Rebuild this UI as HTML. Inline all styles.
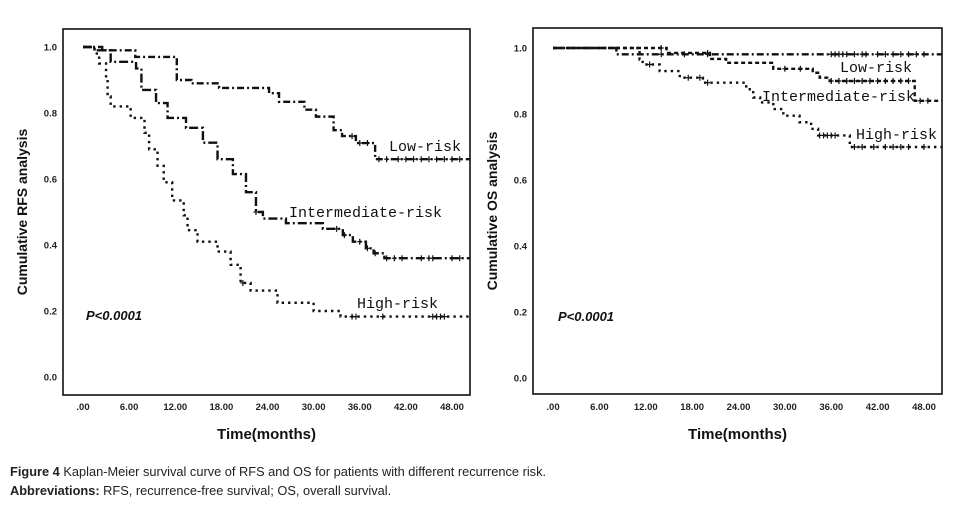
<!DOCTYPE html>
<html><head><meta charset="utf-8"><style>
body{margin:0;background:#fff;width:969px;height:506px;overflow:hidden;font-family:"Liberation Sans",Arial,sans-serif}
svg{position:absolute;left:0;top:0}
.cap{position:absolute;left:10px;font-size:12.8px;color:#222}
</style></head><body>
<svg id="chart" width="969" height="506"></svg>
<div class="cap" style="top:464px"><b>Figure 4</b> Kaplan-Meier survival curve of RFS and OS for patients with different recurrence risk.</div>
<div class="cap" style="top:483px"><b>Abbreviations:</b> RFS, recurrence-free survival; OS, overall survival.</div>
<script>
const xTicks=[0,6,12,18,24,30,36,42,48];
const xTickLabels=[".00","6.00","12.00","18.00","24.00","30.00","36.00","42.00","48.00"];
const yTicks=[0,0.2,0.4,0.6,0.8,1.0];
const yTickLabels=["0.0","0.2","0.4","0.6","0.8","1.0"];
// RFS panel
const rfsLowT=[0,2.5,6.8,12.2,14.1,17.7,24.2,25.5,28.8,30.3,32.6,33.7,35.5,38,50.3];
const rfsLowS=[1,0.99,0.97,0.90,0.89,0.876,0.86,0.834,0.81,0.789,0.748,0.73,0.709,0.66,0.66];
const rfsLowCens=[35,36,37,38.5,39.5,41,42,43,44,45,46,47,48,49];
const rfsIntT=[0,1.5,3.6,6.9,7.6,9.5,11,13.4,15.6,17.5,19.5,21.2,22.5,23.4,26.4,31.2,33.8,35.1,36.8,37.8,39.2,50.3];
const rfsIntS=[1,0.99,0.955,0.935,0.87,0.83,0.785,0.755,0.71,0.66,0.615,0.56,0.50,0.48,0.466,0.449,0.43,0.41,0.39,0.375,0.36,0.36];
const rfsIntCens=[22.5,33,34,36,37,38,39.5,40.5,41.5,44,45,45.5,48,49];
const rfsHighT=[0,1.5,2.1,3,3.2,3.6,6.2,8,8.6,9.7,10.5,11.6,13.1,13.6,14.9,17.5,19.2,20.5,21.8,25.3,30,33.5,50.3];
const rfsHighS=[1,0.98,0.95,0.90,0.85,0.82,0.785,0.74,0.69,0.64,0.59,0.535,0.49,0.445,0.41,0.38,0.34,0.285,0.262,0.225,0.2,0.183,0.183];
const rfsHighCens=[20.8,35,35.5,39,45.5,46,46.5,47];
// OS panel
const osLowT=[0,8.2,50.3];
const osLowS=[1,0.981,0.981];
const osLowCens=[14,17,20,36,36.5,37,37.5,38,39,40,40.5,42,43,44,45,46,47,48];
const osIntT=[0,14.7,20.3,22.4,28.5,33.6,34.5,35.8,46.8,50.3];
const osIntS=[1,0.985,0.967,0.955,0.937,0.925,0.91,0.90,0.84,0.84];
const osIntCens=[14,20,30,32,36,37,38,39,40,41,42,43,44,45,46,47.5,48.5];
const osHighT=[0,11.2,11.6,13.8,16.4,19.4,25,25.9,26.8,28.5,29.8,31.9,33.4,34.3,38.4,50.3];
const osHighS=[1,0.965,0.95,0.93,0.91,0.895,0.875,0.85,0.835,0.815,0.795,0.775,0.755,0.735,0.70,0.70];
const osHighCens=[12.5,17.5,19,20,34.5,35,35.5,36,36.5,39,40,41.5,43,44,45,46,48];

const NS="http://www.w3.org/2000/svg";
const svg=document.getElementById('chart');
function mk(tag,attrs,parent){const e=document.createElementNS(NS,tag);for(const k in attrs)e.setAttribute(k,attrs[k]);(parent||svg).appendChild(e);return e;}

function panel(p){
  const g=mk('g',{});
  
  
  const xs=t=>p.x0+t*(p.x48-p.x0)/48;
  const ys=s=>p.y0-s*(p.y0-p.y1)/1;
  const fr=mk('rect',{x:p.fx1,y:p.fy1,width:p.fx2-p.fx1,height:p.fy2-p.fy1,fill:'none',stroke:'#111','stroke-width':1.6},g);
  
  
  xTicks.forEach((t,i)=>{const tx=mk('text',{x:xs(t),y:410,'text-anchor':'middle','font-size':9.5,'font-weight':'bold',fill:'#222'},g);tx.textContent=xTickLabels[i];
    
    });
  yTicks.forEach((v,i)=>{const tx=mk('text',{x:p.fx1-6,y:ys(v)+3.5,'text-anchor':'end','font-size':9.5,'font-weight':'bold',fill:'#222'},g);tx.textContent=yTickLabels[i];
    
    });
  const xt=mk('text',{x:(p.fx1+p.fx2)/2,y:439,'text-anchor':'middle','font-size':15,'font-weight':'bold',fill:'#111'},g);
  xt.textContent='Time(months)';
  
  
  const yt=mk('text',{x:0,y:0,'text-anchor':'middle','font-size':14,'font-weight':'bold',fill:'#111',transform:`translate(${p.ytx},${(p.fy1+p.fy2)/2}) rotate(-90)`},g);
  yt.textContent=p.ytitle;
  
  
  const pv=mk('text',{x:p.px,y:ys(0.185)+4,'font-size':13,'font-weight':'bold','font-style':'italic',fill:'#111'},g);
  pv.textContent='P<0.0001';
  
  
  p.series.forEach(s=>{
    let d=`M${xs(s.T[0])},${ys(s.S[0])}`;
    for(let i=1;i<s.T.length;i++){d+=` H${xs(s.T[i])} V${ys(s.S[i])}`;}
    const path=mk('path',{d,fill:'none',stroke:'#111','stroke-width':2.4,'stroke-dasharray':s.dash},g);
    
    
    s.C.forEach(t=>{let v=s.S[0];for(let i=0;i<s.T.length;i++){if(s.T[i]<=t)v=s.S[i];}
      const c=mk('path',{d:`M${xs(t)-2.5},${ys(v)} h5 M${xs(t)},${ys(v)-3} v6`,stroke:'#111','stroke-width':1.2},g);
      
      });
    const lb=mk('text',{x:s.lx,y:s.ly,'font-size':15,'font-family':'Liberation Mono, monospace',fill:'#111'},g);
    lb.textContent=s.label;
    
    
  });
}
panel({name:'rfs-panel',x0:83,x48:452,y0:377,y1:47,fx1:63,fx2:470,fy1:29,fy2:395,ytx:27,ytitle:'Cumulative RFS analysis',px:86,
  series:[
   {name:'low-risk',T:rfsLowT,S:rfsLowS,C:rfsLowCens,dash:'7 3 2 3',label:'Low-risk',lx:389,ly:151},
   {name:'intermediate-risk',T:rfsIntT,S:rfsIntS,C:rfsIntCens,dash:'9 3 2 3',label:'Intermediate-risk',lx:289,ly:217},
   {name:'high-risk',T:rfsHighT,S:rfsHighS,C:rfsHighCens,dash:'2.4 4',label:'High-risk',lx:357,ly:308}]});
panel({name:'os-panel',x0:553,x48:924,y0:378,y1:48,fx1:533,fx2:942,fy1:28,fy2:394,ytx:497,ytitle:'Cumulative OS analysis',px:558,
  series:[
   {name:'low-risk',T:osLowT,S:osLowS,C:osLowCens,dash:'7 3 2 3',label:'Low-risk',lx:840,ly:72},
   {name:'intermediate-risk',T:osIntT,S:osIntS,C:osIntCens,dash:'4 3',label:'Intermediate-risk',lx:762,ly:101},
   {name:'high-risk',T:osHighT,S:osHighS,C:osHighCens,dash:'2.4 4',label:'High-risk',lx:856,ly:139}]});
</script>
</body></html>
